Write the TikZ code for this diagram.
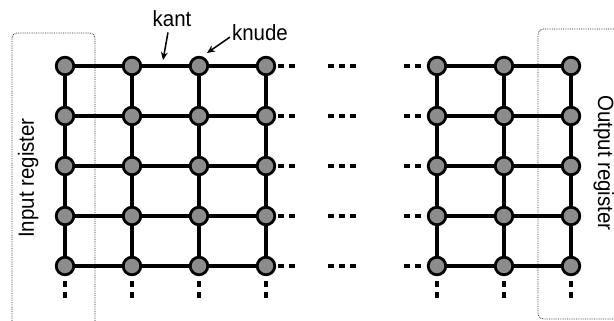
\documentclass[tikz,border=0pt]{standalone}
\usepackage{fontspec}
\setmainfont[FakeStretch=0.93]{Liberation Sans}
\usetikzlibrary{arrows.meta}
\definecolor{nodegray}{RGB}{140,140,140}
\begin{document}
\begin{tikzpicture}[x=1pt,y=-1pt,
  knot/.style={circle, draw=black, line width=2.8pt, fill=nodegray, minimum size=17.6pt, inner sep=0pt},
  gridedge/.style={line width=3.2pt},
  more/.style={line width=3.2pt, dash pattern=on 6pt off 5pt},
  regbox/.style={densely dotted, line width=0.8pt, rounded corners=5pt, draw=black!85},
  lbl/.style={font=\fontsize{22}{26}\selectfont, inner sep=0pt},
  ptr/.style={-{Stealth[length=8pt,width=7pt]}, line width=1.5pt}]
\useasboundingbox (0,0) rectangle (614,321);
\clip (0,0) rectangle (614,321);
% register boxes
\draw[regbox] (95,330) -- (95,33) -- (12,33) -- (12,330);
\draw[regbox] (625,29) -- (538,29) -- (538,319) -- (625,319);
% nodes
\foreach \c/\x in {1/65,2/132,3/199,4/266}
  \foreach \r/\y in {1/66,2/116,3/166,4/216,5/266}
    \node[knot] (a\c\r) at (\x,\y) {};
\foreach \c/\x in {1/437,2/504,3/571}
  \foreach \r/\y in {1/66,2/116,3/166,4/216,5/266}
    \node[knot] (b\c\r) at (\x,\y) {};
% horizontal edges
\foreach \r in {1,...,5}{
  \draw[gridedge] (a1\r) -- (a2\r);
  \draw[gridedge] (a2\r) -- (a3\r);
  \draw[gridedge] (a3\r) -- (a4\r);
  \draw[gridedge] (b1\r) -- (b2\r);
  \draw[gridedge] (b2\r) -- (b3\r);
}
% vertical edges
\foreach \c in {1,...,4}{
  \draw[gridedge] (a\c1) -- (a\c2);
  \draw[gridedge] (a\c2) -- (a\c3);
  \draw[gridedge] (a\c3) -- (a\c4);
  \draw[gridedge] (a\c4) -- (a\c5);
}
\foreach \c in {1,...,3}{
  \draw[gridedge] (b\c1) -- (b\c2);
  \draw[gridedge] (b\c2) -- (b\c3);
  \draw[gridedge] (b\c3) -- (b\c4);
  \draw[gridedge] (b\c4) -- (b\c5);
}
% continuation marks
\foreach \r in {1,...,5}{
  \draw[more] ([xshift=2pt]a4\r.east) -- ++(17,0);
  \draw[more] ([xshift=52pt]a4\r.east) -- ++(30,0);
  \draw[more] ([xshift=-23pt]b1\r.west) -- ++(17,0);
}
\foreach \c in {1,...,4}
  \draw[more] ([yshift=-5pt]a\c5.south) -- ++(0,17);
\foreach \c in {1,...,3}
  \draw[more] ([yshift=-5pt]b\c5.south) -- ++(0,17);
% labels
\node[lbl, anchor=base] (kant) at (172,27) {kant};
\node[lbl, anchor=base] (knude) at (260,41) {knude};
\coordinate (kanttip) at (163,60);
\coordinate (knudetip) at (207,53);
\draw[ptr] ([xshift=-4pt,yshift=-5pt]kant.south) -- (kanttip);
\draw[ptr] ([xshift=-2pt,yshift=-4pt]knude.west) -- (knudetip);
\node[lbl, rotate=90, anchor=base] (inreg) at (34,178) {Input register};
\node[lbl, rotate=-90, anchor=base] (outreg) at (598,163) {Output register};
\end{tikzpicture}
\end{document}
